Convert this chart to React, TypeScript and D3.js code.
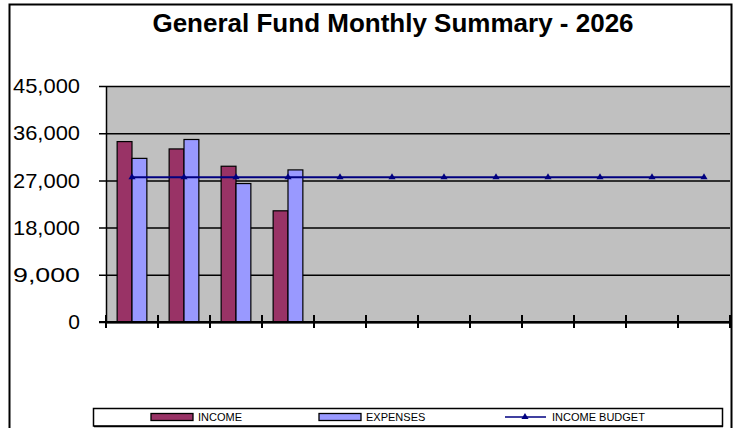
import { useEffect, useRef } from "react";
import * as d3 from "d3";

const months = ["JAN", "FEB", "MAR", "APR", "MAY", "JUN", "JUL", "AUG", "SEP", "OCT", "NOV", "DEC"];
const income = [34400, 33000, 29700, 21200];
const expenses = [31200, 34800, 26400, 29000];
const incomeBudget = [27600, 27600, 27600, 27600, 27600, 27600, 27600, 27600, 27600, 27600, 27600, 27600];
const yTicks = [0, 9000, 18000, 27000, 36000, 45000];
const seriesNames = ["INCOME", "EXPENSES"];
const seriesColors = ["#993366", "#9999FF"];

export default function App() {
  const svgRef = useRef<SVGSVGElement>(null);

  useEffect(() => {
    if (!svgRef.current) return;
    const width = 739;
    const height = 428;
    const plot = { left: 106, right: 730, top: 86, bottom: 322 };
    const font = "'Liberation Sans', Arial, sans-serif";

    d3.select(svgRef.current).selectAll("*").remove();
    const svg = d3.select(svgRef.current).attr("width", width).attr("height", height);

    // outer chart border
    svg.append("rect")
      .attr("x", 9.5).attr("y", 4.5)
      .attr("width", 722).attr("height", 440)
      .attr("fill", "#fff").attr("stroke", "#000").attr("stroke-width", 2);

    svg.append("text")
      .attr("x", 393).attr("y", 32)
      .attr("text-anchor", "middle")
      .attr("font-family", font).attr("font-weight", "bold").attr("font-size", 26)
      .text("General Fund Monthly Summary - 2026");

    const x0 = d3.scaleBand<string>().domain(months).range([plot.left, plot.right]).padding(0);
    const x1 = d3.scaleBand<string>().domain(seriesNames).range([0, x0.bandwidth()]).paddingInner(0).paddingOuter(0.75);
    const y = d3.scaleLinear().domain([0, 45000]).range([plot.bottom, plot.top]);

    // plot area
    svg.append("rect")
      .attr("x", plot.left).attr("y", plot.top)
      .attr("width", plot.right - plot.left).attr("height", plot.bottom - plot.top)
      .attr("fill", "#C0C0C0");

    // gridlines + y ticks
    const yAxis = d3.axisLeft(y).tickValues(yTicks).tickSize(-(plot.right - plot.left)).tickSizeOuter(0)
      .tickFormat((d) => d3.format(",")(d as number));
    const gy = svg.append("g").attr("transform", `translate(${plot.left},0)`).call(yAxis);
    gy.select(".domain").attr("stroke", "#000").attr("stroke-width", 1.5);
    gy.selectAll(".tick line").attr("stroke", "#000").attr("stroke-width", 1.5).attr("x1", -7);
    gy.selectAll(".tick text")
      .attr("x", -26)
      .attr("font-family", font).attr("font-size", 21).attr("fill", "#000")
      .attr("textLength", (d) => ((d as number) === 0 ? null : 67) as any)
      .attr("lengthAdjust", "spacingAndGlyphs");

    // bars
    const bars = svg.append("g");
    [income, expenses].forEach((vals, si) => {
      bars.selectAll(null)
        .data(vals)
        .join("rect")
        .attr("x", (_, i) => (x0(months[i]) ?? 0) + (x1(seriesNames[si]) ?? 0))
        .attr("y", (d) => y(d))
        .attr("width", x1.bandwidth())
        .attr("height", (d) => y(0) - y(d))
        .attr("fill", seriesColors[si])
        .attr("stroke", "#000").attr("stroke-width", 1.2);
    });

    // x axis
    const xAxis = d3.axisBottom(x0).tickSize(0).tickFormat(() => "");
    const gx = svg.append("g").attr("transform", `translate(0,${plot.bottom})`).call(xAxis);
    gx.select(".domain").attr("stroke", "#000").attr("stroke-width", 2);
    const boundaries = months.map((m) => x0(m) ?? 0).concat([plot.right]);
    gx.selectAll(".xtick")
      .data(boundaries)
      .join("line")
      .attr("x1", (d) => d).attr("x2", (d) => d)
      .attr("y1", -7).attr("y2", 6)
      .attr("stroke", "#000").attr("stroke-width", 2);
    svg.append("line")
      .attr("x1", plot.left - 7).attr("x2", plot.right)
      .attr("y1", plot.bottom).attr("y2", plot.bottom)
      .attr("stroke", "#000").attr("stroke-width", 2);

    // budget line
    const cx = (i: number) => (x0(months[i]) ?? 0) + x0.bandwidth() / 2;
    const line = d3.line<number>().x((_, i) => cx(i)).y((d) => y(d));
    svg.append("path")
      .datum(incomeBudget)
      .attr("d", line)
      .attr("fill", "none").attr("stroke", "#000080").attr("stroke-width", 2);
    const tri = d3.symbol().type(d3.symbolTriangle).size(22);
    svg.append("g").selectAll("path")
      .data(incomeBudget)
      .join("path")
      .attr("d", tri)
      .attr("transform", (d, i) => `translate(${cx(i)},${y(d)})`)
      .attr("fill", "#000080");

    // legend
    const lg = svg.append("g");
    lg.append("rect")
      .attr("x", 93.5).attr("y", 408.5).attr("width", 629).attr("height", 17.5)
      .attr("fill", "#fff").attr("stroke", "#000").attr("stroke-width", 1.5);
    lg.append("line")
      .attr("x1", 94).attr("x2", 723).attr("y1", 426.5).attr("y2", 426.5)
      .attr("stroke", "#000").attr("stroke-width", 1.5);
    const ly = 417;
    const legendItems = [
      { name: "INCOME", x: 151, color: seriesColors[0], kind: "bar" },
      { name: "EXPENSES", x: 319, color: seriesColors[1], kind: "bar" },
      { name: "INCOME BUDGET", x: 505, color: "#000080", kind: "line" },
    ];
    legendItems.forEach((it) => {
      if (it.kind === "bar") {
        lg.append("rect")
          .attr("x", it.x).attr("y", ly - 3.5).attr("width", 42).attr("height", 7)
          .attr("fill", it.color).attr("stroke", "#000").attr("stroke-width", 1.3);
      } else {
        lg.append("line")
          .attr("x1", it.x).attr("x2", it.x + 41).attr("y1", ly).attr("y2", ly)
          .attr("stroke", it.color).attr("stroke-width", 1.5);
        lg.append("path").attr("d", tri).attr("transform", `translate(${it.x + 20},${ly})`).attr("fill", it.color);
      }
      lg.append("text")
        .attr("x", it.x + 47).attr("y", ly).attr("dy", "0.36em")
        .attr("font-family", font).attr("font-size", 11).attr("fill", "#000")
        .text(it.name);
    });
  }, []);

  return <svg ref={svgRef} style={{ position: "absolute", left: 0, top: 0, background: "#fff" }} />;
}
